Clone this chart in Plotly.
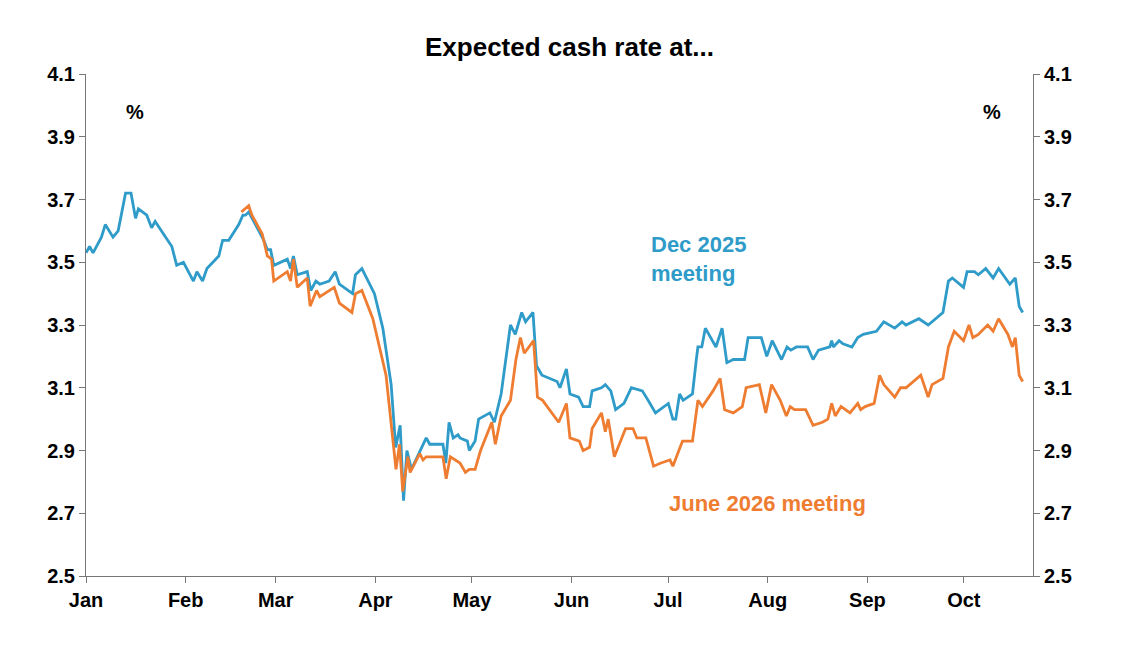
import pandas as pd
import plotly.graph_objects as go

# day offsets from 1 Jan 2025 and values
dec_day = [0,1.1,2.2,4.8,6,8.4,10,12.3,14,15.4,16.3,18.9,20.4,21.5,26.7,28.2,30.3,33.4,34.5,36.25,37.6,41.3,42.5,44.4,47.5,48.8,49.6,50.6,52.7,55.3,56.4,57.4,58.4,62.6,63.6,64.5,65.7,68.8,69.9,71.5,72.7,75.6,77.5,78.8,82.9,83.8,85.8,89.7,92.3,94.9,96.3,97.7,98.75,99.8,101.2,105.8,106.9,111,111.9,112.9,114.2,115.7,
           116.3,118.6,119.2,121,122.1,125.6,127,129.1,132,133.5,135.5,136.7,139,140.1,141.8,144.2,146.5,147.4,149.4,150.5,153.2,154.6,156.6,157.4,160.3,161.5,163.2,164.7,167.3,169.6,173,174.8,177.1,181.1,182.5,183.4,184.6,185.7,188.6,189.8,190.3,191.5,192.6,195.9,197.8,199.3,201.3,203,204.8,205.9,210,211.7,213.4,216.3,218,219.2,220.9,224.4,226.1,227.8,231.3,231.9,232.4,234.2,235.4,238.2,240,241.7,245.8,248.1,251.5,253.8,255,259,261.9,266.5,268.2,269.4,272.9,274,276.3,277.5,279.8,282.1,283.8,287.3,289,290.2,291.3]
dec_val = [3.53,3.55,3.53,3.58,3.62,3.58,3.60,3.72,3.72,3.64,3.67,3.65,3.61,3.63,3.55,3.49,3.50,3.44,3.47,3.44,3.48,3.52,3.57,3.57,3.62,3.65,3.65,3.66,3.62,3.57,3.54,3.54,3.49,3.51,3.48,3.52,3.46,3.47,3.41,3.44,3.43,3.44,3.47,3.43,3.40,3.46,3.48,3.40,3.29,3.11,2.91,2.98,2.74,2.90,2.84,2.94,2.92,2.92,2.86,2.99,2.94,2.95,
           2.94,2.93,2.90,2.93,3.00,3.02,2.99,3.08,3.30,3.27,3.34,3.31,3.34,3.17,3.14,3.13,3.12,3.10,3.16,3.08,3.07,3.04,3.04,3.09,3.10,3.11,3.09,3.03,3.05,3.10,3.09,3.06,3.02,3.05,3.00,3.00,3.08,3.06,3.08,3.19,3.23,3.23,3.29,3.23,3.29,3.18,3.19,3.19,3.19,3.26,3.26,3.20,3.25,3.19,3.23,3.22,3.23,3.23,3.19,3.22,3.23,3.25,3.23,3.25,3.24,3.23,3.26,3.27,3.28,3.31,3.29,3.31,3.30,3.32,3.30,3.34,3.44,3.45,3.42,3.47,3.47,3.46,3.48,3.45,3.48,3.43,3.45,3.36,3.34]

jun_day = [48.3,50.6,51.6,54.8,56.4,57.7,58.4,62.6,63.6,64.5,65.7,68.8,69.7,71.7,72.7,77.2,78.8,82.7,83.8,85.8,89.2,93.3,96.4,97.5,98.5,100.1,100.8,103.8,104.8,105.8,111,112,113.3,
           116.3,118,119.2,121,122.7,126.2,127.3,129.1,132,133.7,135.1,136.3,139.2,140.4,142,147,149.4,150.5,153.4,154.6,156.6,157.4,160.3,161.5,162.4,164.3,167.8,170.1,171.3,174.1,176.5,178.8,181.6,182.5,185.5,188.6,190.3,191.7,195,197.2,198.6,201.3,204.1,205.3,209.4,211.4,213.2,215.9,217.8,219,220.3,223.8,226.1,229,230.7,231.9,233,234.8,237.6,240,240.9,242.3,245.1,246.8,248.1,251.5,253.3,255,259.6,261.9,263.1,266.5,268.2,270,272.9,274.6,275.8,277.5,280.4,282.1,283.8,286.7,288.1,289,290.2,291.3]
jun_val = [3.66,3.68,3.65,3.59,3.52,3.51,3.44,3.47,3.44,3.51,3.42,3.45,3.36,3.41,3.39,3.42,3.37,3.34,3.40,3.41,3.32,3.14,2.84,2.92,2.77,2.88,2.83,2.89,2.87,2.88,2.88,2.81,2.88,
           2.86,2.83,2.84,2.84,2.90,2.99,2.92,3.01,3.06,3.19,3.26,3.21,3.25,3.07,3.06,2.99,3.05,2.94,2.93,2.90,2.91,2.97,3.02,2.96,3.00,2.88,2.97,2.97,2.94,2.94,2.85,2.86,2.87,2.85,2.93,2.93,3.06,3.04,3.09,3.13,3.03,3.02,3.04,3.10,3.11,3.02,3.11,3.06,3.01,3.04,3.03,3.03,2.98,2.99,3.00,3.05,3.01,3.04,3.02,3.05,3.03,3.04,3.05,3.14,3.11,3.07,3.10,3.10,3.14,3.07,3.11,3.13,3.23,3.28,3.25,3.30,3.26,3.27,3.30,3.28,3.32,3.27,3.23,3.26,3.14,3.12]

y_ticks = [2.5, 2.7, 2.9, 3.1, 3.3, 3.5, 3.7, 3.9, 4.1]
month_labels = ["Jan","Feb","Mar","Apr","May","Jun","Jul","Aug","Sep","Oct"]

start = pd.Timestamp("2025-01-01")
to_dates = lambda d: [start + pd.Timedelta(days=x) for x in d]
month_dates = pd.date_range("2025-01-01", periods=len(month_labels), freq="MS")

BLUE = "#2E9BC9"
ORANGE = "#EE7D32"
FONT = "Liberation Sans, Arial, sans-serif"

fig = go.Figure()
fig.add_trace(go.Scatter(x=to_dates(dec_day), y=dec_val, mode="lines",
                         line=dict(color=BLUE, width=2.8), showlegend=False))
fig.add_trace(go.Scatter(x=to_dates(jun_day), y=jun_val, mode="lines",
                         line=dict(color=ORANGE, width=2.8), showlegend=False))
fig.add_trace(go.Scatter(x=to_dates(dec_day), y=dec_val, yaxis="y2", mode="lines",
                         line=dict(width=0), opacity=0, hoverinfo="skip", showlegend=False))

yax = dict(range=[2.5, 4.1], tickvals=y_ticks, ticktext=[f"{v:.1f}" for v in y_ticks],
           showgrid=False, zeroline=False, showline=True, linecolor="#777", linewidth=1,
           ticks="outside", ticklen=6, tickcolor="#777", automargin=False,
           tickfont=dict(family=FONT, size=20, color="black", weight="bold"))
fig.update_layout(
    width=1123, height=664, paper_bgcolor="white", plot_bgcolor="white",
    margin=dict(l=78, r=98, t=66, b=96, autoexpand=False),
    title=dict(text="<b>Expected cash rate at...</b>", x=0.5, xanchor="center", y=0.955,
               font=dict(family=FONT, size=26, color="black")),
    xaxis=dict(range=[start, start + pd.Timedelta(days=294.5)], tickvals=month_dates, ticktext=month_labels,
               showgrid=False, zeroline=False, showline=True, linecolor="#777", linewidth=1,
               ticks="outside", ticklen=6, tickcolor="#777", automargin=False,
               tickfont=dict(family=FONT, size=20, color="black", weight="bold")),
    yaxis=yax,
    yaxis2=dict(yax, overlaying="y", side="right", matches="y"),
    annotations=[
        dict(text="<b>%</b>", xref="paper", yref="paper", x=0.04, y=0.95, showarrow=False,
             font=dict(family=FONT, size=20, color="black")),
        dict(text="<b>%</b>", xref="paper", yref="paper", x=0.968, y=0.95, showarrow=False,
             font=dict(family=FONT, size=20, color="black")),
        dict(text="<b>Dec 2025<br>meeting</b>", xref="paper", yref="y", x=0.595, y=3.51,
             xanchor="left", align="left", showarrow=False,
             font=dict(family=FONT, size=22, color=BLUE)),
        dict(text="<b>June 2026 meeting</b>", xref="paper", yref="y", x=0.613, y=2.73,
             xanchor="left", showarrow=False,
             font=dict(family=FONT, size=22, color=ORANGE)),
    ],
)
fig.write_html("out.html")
